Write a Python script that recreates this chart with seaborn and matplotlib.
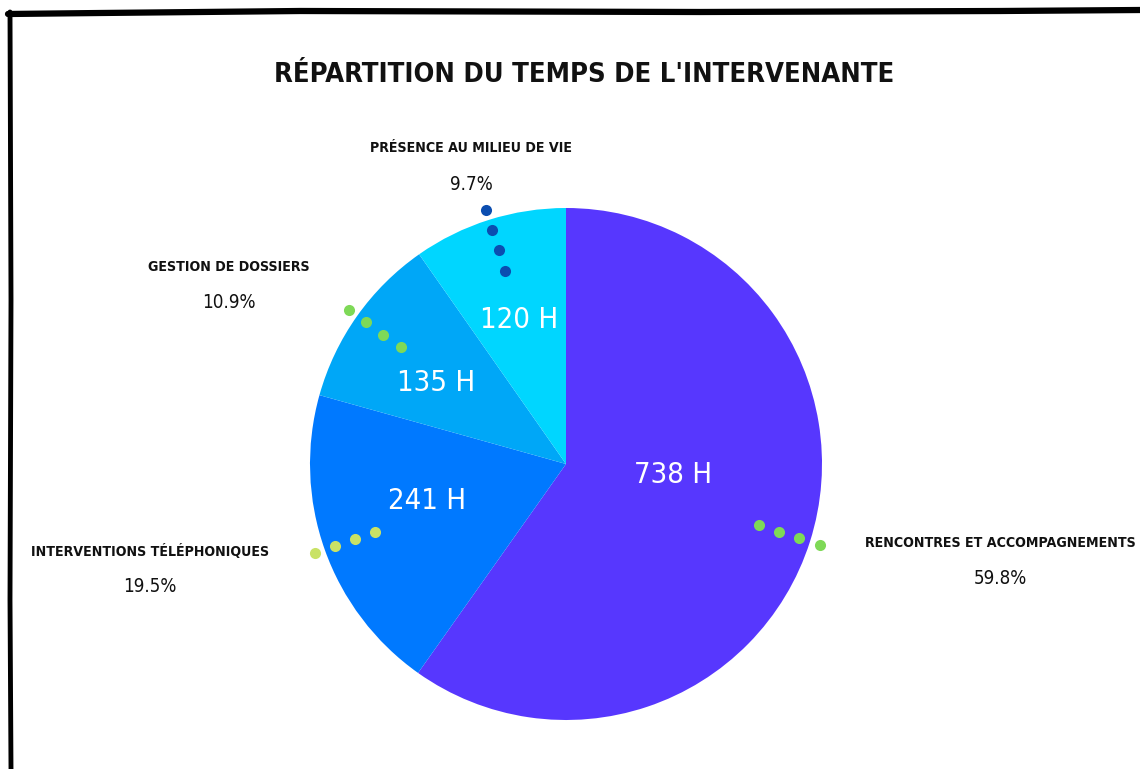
import numpy as np
import matplotlib.pyplot as plt
import seaborn as sns

# data
categories = ["Rencontres et accompagnements", "Interventions téléphoniques",
              "Gestion de dossiers", "Présence au milieu de vie"]
heures = [738, 241, 135, 120]
title = "Répartition du temps de l'intervenante"

colors = ["#5737FE", "#0079FF", "#00A7F7", "#00D6FF"]
dot_colors = ["#7ED957", "#C9E265", "#7ED957", "#0B4DB0"]

sns.set_theme(style="white")
plt.rcParams["font.family"] = ["DejaVu Sans"]
plt.rcParams["font.stretch"] = "condensed"

W, H = 1140, 769
fig = plt.figure(figsize=(W / 100, H / 100), dpi=100)
ax = fig.add_axes([0, 0, 1, 1])

cx, cy, R = 566, H - 464, 256

ax.pie(heures, colors=colors, startangle=90, counterclock=False,
       center=(cx, cy), radius=R, frame=True,
       wedgeprops=dict(linewidth=0))
ax.set_xlim(0, W)
ax.set_ylim(0, H)
ax.set_aspect("equal")
ax.axis("off")

total = sum(heures)
pcts = [h / total * 100 for h in heures]

# angles (clockwise from top) of each slice middle
cum = np.cumsum([0] + heures)
mids = [(cum[i] + cum[i + 1]) / 2 / total * 360 for i in range(len(heures))]

def pt(angle, r):
    a = np.deg2rad(angle)
    return cx + r * np.sin(a), cy + r * np.cos(a)

# leader dots
for i, m in enumerate(mids):
    for f in [0.79, 0.875, 0.957, 1.04]:
        x, y = pt(m, R * f)
        ax.plot(x, y, "o", color=dot_colors[i], markersize=8, markeredgewidth=0)

# hour labels inside slices
hour_pos = [(96, 0.42), (255, 0.56), (302, 0.60), (342, 0.59)]
for i, (ang, f) in enumerate(hour_pos):
    x, y = pt(ang, R * f)
    ax.text(x, y, f"{heures[i]} H", color="white", fontsize=21,
            ha="center", va="center", fontstretch="condensed")

# outer labels
label_pos = [(1000, 543), (150, 551), (229, 267), (471, 148)]
for i, (x, y) in enumerate(label_pos):
    ax.text(x, H - y, categories[i].upper(), fontsize=10.2, ha="center",
            va="center", color="#111111", fontweight="bold",
            fontstretch="condensed")
    ax.text(x, H - y - 36, f"{pcts[i]:.1f}%", fontsize=13.5, ha="center",
            va="center", color="#111111", fontstretch="condensed")

ax.text(584, H - 75, title.upper(), fontsize=19.6, ha="center", va="center",
        color="#111111", fontweight="bold", fontstretch="condensed")

# hand-drawn frame
ax.plot([8, 100, 300, 700, 1000, 1140], [H - 14, H - 13, H - 11, H - 12, H - 11, H - 10],
        color="black", linewidth=4.5, solid_capstyle="round")
ax.plot([10, 11, 10, 11], [H - 12, H - 300, H - 600, 0], color="black", linewidth=3.5)

plt.savefig("out.png", dpi=100)
